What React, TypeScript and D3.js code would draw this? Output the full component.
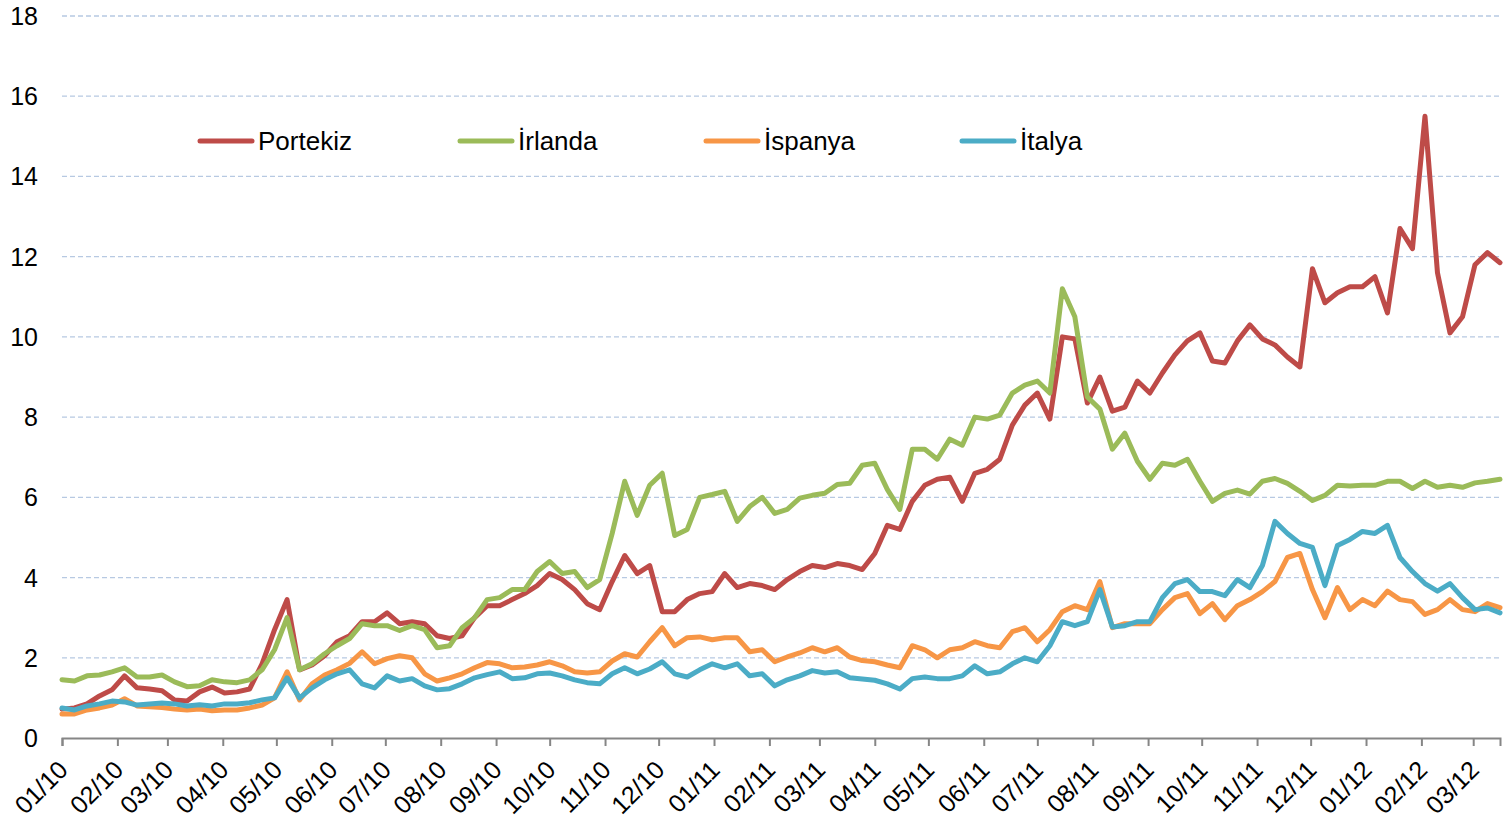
import { useEffect, useRef } from 'react'
import * as d3 from 'd3'

// weekly observations starting 1 Jan 2010
const startDate = new Date(2010, 0, 1)
const weeks = d3.range(116).map((i) => d3.timeDay.offset(startDate, i * 7))

const portekiz = [
  0.72, 0.75, 0.85, 1.05, 1.2, 1.55, 1.25, 1.22, 1.18, 0.95,
  0.92, 1.15, 1.27, 1.12, 1.15, 1.22, 1.85, 2.7, 3.45, 1.7,
  1.82, 2.05, 2.4, 2.55, 2.9, 2.9, 3.12, 2.85, 2.9, 2.85,
  2.55, 2.48, 2.55, 3.0, 3.3, 3.3, 3.45, 3.6, 3.8, 4.1,
  3.95, 3.7, 3.35, 3.2, 3.9, 4.55, 4.1, 4.3, 3.15, 3.15,
  3.45, 3.6, 3.65, 4.1, 3.75, 3.85, 3.8, 3.7, 3.95, 4.15,
  4.3, 4.25, 4.35, 4.3, 4.2, 4.6, 5.3, 5.2, 5.9, 6.3,
  6.45, 6.5, 5.9, 6.6, 6.7, 6.95, 7.8, 8.3, 8.6, 7.95,
  10.0, 9.95, 8.35, 9.0, 8.15, 8.25, 8.9, 8.6, 9.1, 9.55,
  9.9, 10.1, 9.4, 9.35, 9.9, 10.3, 9.95, 9.8, 9.5, 9.25,
  11.7, 10.85, 11.1, 11.25, 11.25, 11.5, 10.6, 12.7, 12.2, 15.5,
  11.6, 10.1, 10.5, 11.8, 12.1, 11.85,
]

const irlanda = [
  1.45, 1.42, 1.55, 1.57, 1.65, 1.75, 1.52, 1.52, 1.57, 1.4,
  1.28, 1.3, 1.45, 1.4, 1.38, 1.45, 1.7, 2.2, 3.0, 1.7,
  1.85, 2.1, 2.3, 2.48, 2.85, 2.8, 2.8, 2.68, 2.8, 2.7,
  2.25, 2.3, 2.75, 3.0, 3.45, 3.5, 3.7, 3.7, 4.15, 4.4,
  4.1, 4.15, 3.75, 3.95, 5.1, 6.4, 5.55, 6.3, 6.6, 5.05,
  5.2, 6.0, 6.07, 6.15, 5.4, 5.77, 6.0, 5.6, 5.7, 5.98,
  6.05, 6.1, 6.32, 6.35, 6.8, 6.85, 6.2, 5.7, 7.2, 7.2,
  6.95, 7.45, 7.3, 8.0, 7.95, 8.05, 8.6, 8.8, 8.9, 8.6,
  11.2, 10.5, 8.5, 8.2, 7.2, 7.6, 6.9, 6.45, 6.85, 6.8,
  6.95, 6.4, 5.9, 6.1, 6.18, 6.08, 6.4, 6.47, 6.35, 6.15,
  5.92, 6.05, 6.3, 6.28, 6.3, 6.3, 6.4, 6.4, 6.22, 6.4,
  6.25, 6.3, 6.25, 6.36, 6.4, 6.45,
]

const ispanya = [
  0.6, 0.6, 0.7, 0.75, 0.82, 0.98, 0.8, 0.78, 0.76, 0.72,
  0.7, 0.72, 0.68, 0.7, 0.7, 0.75, 0.82, 1.0, 1.65, 0.95,
  1.35, 1.57, 1.7, 1.86, 2.15, 1.85, 1.98, 2.05, 2.0, 1.6,
  1.42, 1.5, 1.6, 1.75, 1.88, 1.85, 1.75, 1.77, 1.82, 1.9,
  1.8, 1.65, 1.62, 1.65, 1.92, 2.1, 2.02, 2.4, 2.75, 2.3,
  2.5, 2.52, 2.45, 2.5, 2.5, 2.15, 2.2, 1.9, 2.02, 2.12,
  2.25, 2.15, 2.25, 2.02, 1.93, 1.9, 1.82, 1.75, 2.3, 2.2,
  2.0, 2.2, 2.25, 2.4, 2.3, 2.25, 2.65, 2.75, 2.4, 2.7,
  3.15, 3.3, 3.2, 3.9, 2.75, 2.85, 2.85, 2.85, 3.2, 3.5,
  3.6, 3.1, 3.35, 2.95, 3.3, 3.45, 3.65, 3.9, 4.5, 4.6,
  3.7, 3.0, 3.75, 3.2, 3.45, 3.3, 3.66, 3.45, 3.4, 3.08,
  3.2, 3.45, 3.2, 3.15, 3.35, 3.25,
]

const italya = [
  0.75, 0.7, 0.8, 0.85, 0.92, 0.9, 0.82, 0.85, 0.87, 0.85,
  0.8, 0.83, 0.8, 0.85, 0.85, 0.88, 0.95, 1.0, 1.5, 1.0,
  1.25, 1.45, 1.6, 1.7, 1.35, 1.25, 1.55, 1.42, 1.48, 1.3,
  1.2, 1.23, 1.35, 1.5, 1.58, 1.65, 1.48, 1.5, 1.6, 1.62,
  1.55, 1.45, 1.38, 1.35, 1.6, 1.75, 1.6, 1.72, 1.9, 1.6,
  1.52, 1.7, 1.85, 1.75, 1.85, 1.55, 1.6, 1.3, 1.45, 1.55,
  1.68, 1.62, 1.65, 1.5, 1.47, 1.44, 1.35, 1.22, 1.48, 1.52,
  1.48, 1.48, 1.55, 1.8, 1.6, 1.65, 1.85, 2.0, 1.9, 2.3,
  2.9, 2.8, 2.9, 3.7, 2.77, 2.8, 2.9, 2.9, 3.5, 3.85,
  3.95, 3.65, 3.65, 3.55, 3.95, 3.75, 4.3, 5.4, 5.1, 4.85,
  4.75, 3.8, 4.8, 4.95, 5.15, 5.1, 5.3, 4.5, 4.15, 3.85,
  3.66, 3.85, 3.5, 3.2, 3.24, 3.12,
]

const seriesNames = ['Portekiz', 'İrlanda', 'İspanya', 'İtalya']
const seriesColors = ['#BE4B48', '#9BBB59', '#F79646', '#4BACC6']
const yTicks = [0, 2, 4, 6, 8, 10, 12, 14, 16, 18]
const monthTicks = d3.timeMonth.range(new Date(2010, 0, 1), new Date(2012, 2, 2))
// legend entries: left end of the sample line
const legendX = [200, 460, 706, 962]

export default function App() {
  const ref = useRef<SVGSVGElement>(null)

  useEffect(() => {
    const width = 1508
    const height = 823
    const margin = { top: 16, right: 8, bottom: 85, left: 62 }
    const font = 'Arial, "Liberation Sans", sans-serif'

    const svg = d3.select(ref.current)
    svg.selectAll('*').remove()

    const x = d3
      .scaleTime()
      .domain([startDate, weeks[weeks.length - 1]])
      .range([margin.left, width - margin.right])
    const y = d3
      .scaleLinear()
      .domain([0, 18])
      .range([height - margin.bottom, margin.top])

    // gridlines
    svg
      .append('g')
      .selectAll('line')
      .data(yTicks.filter((d) => d > 0))
      .enter()
      .append('line')
      .attr('x1', margin.left)
      .attr('x2', width - margin.right)
      .attr('y1', (d) => y(d))
      .attr('y2', (d) => y(d))
      .attr('stroke', '#B7C9E2')
      .attr('stroke-width', 1.3)
      .attr('stroke-dasharray', '5,3')

    // y labels
    svg
      .append('g')
      .selectAll('text')
      .data(yTicks)
      .enter()
      .append('text')
      .attr('x', 38)
      .attr('y', (d) => y(d))
      .attr('dy', '0.36em')
      .attr('text-anchor', 'end')
      .attr('font-family', font)
      .attr('font-size', 25)
      .attr('fill', '#000')
      .text((d) => d)

    // x axis
    const xAxis = svg
      .append('g')
      .attr('transform', 'translate(0,' + y(0) + ')')
      .call(
        d3
          .axisBottom(x)
          .tickValues(monthTicks)
          .tickSize(8)
          .tickFormat(() => ''),
      )
    xAxis.select('.domain').attr('stroke', '#868686').attr('stroke-width', 2)
    xAxis.selectAll('.tick line').attr('stroke', '#868686').attr('stroke-width', 2)

    svg
      .append('g')
      .selectAll('text')
      .data(monthTicks)
      .enter()
      .append('text')
      .attr(
        'transform',
        (d) => 'translate(' + (x(d) + 1) + ',' + (y(0) + 27) + ') rotate(-45)',
      )
      .attr('text-anchor', 'end')
      .attr('dy', '0.36em')
      .attr('font-family', font)
      .attr('font-size', 25)
      .attr('fill', '#000')
      .text((d) => d3.timeFormat('%m/%y')(d))

    // series lines
    const allSeries = [portekiz, irlanda, ispanya, italya]
    const line = d3
      .line<number>()
      .x((_, i) => x(weeks[i]))
      .y((d) => y(d))

    allSeries.forEach((values, k) => {
      svg
        .append('path')
        .datum(values)
        .attr('d', line)
        .attr('fill', 'none')
        .attr('stroke', seriesColors[k])
        .attr('stroke-width', 5)
        .attr('stroke-linejoin', 'round')
        .attr('stroke-linecap', 'round')
    })

    // legend
    const legend = svg
      .append('g')
      .selectAll('g')
      .data(seriesNames)
      .enter()
      .append('g')
      .attr('transform', (_, i) => 'translate(' + legendX[i] + ',141)')
    legend
      .append('line')
      .attr('x1', 0)
      .attr('x2', 52)
      .attr('stroke', (_, i) => seriesColors[i])
      .attr('stroke-width', 5)
      .attr('stroke-linecap', 'round')
    legend
      .append('text')
      .attr('x', 58)
      .attr('dy', '0.36em')
      .attr('font-family', font)
      .attr('font-size', 26)
      .attr('fill', '#000')
      .text((d) => d)
  }, [])

  return (
    <div style={{ position: 'absolute', left: 0, top: 0 }}>
      <svg ref={ref} width={1508} height={823} style={{ display: 'block', background: '#fff' }} />
    </div>
  )
}
